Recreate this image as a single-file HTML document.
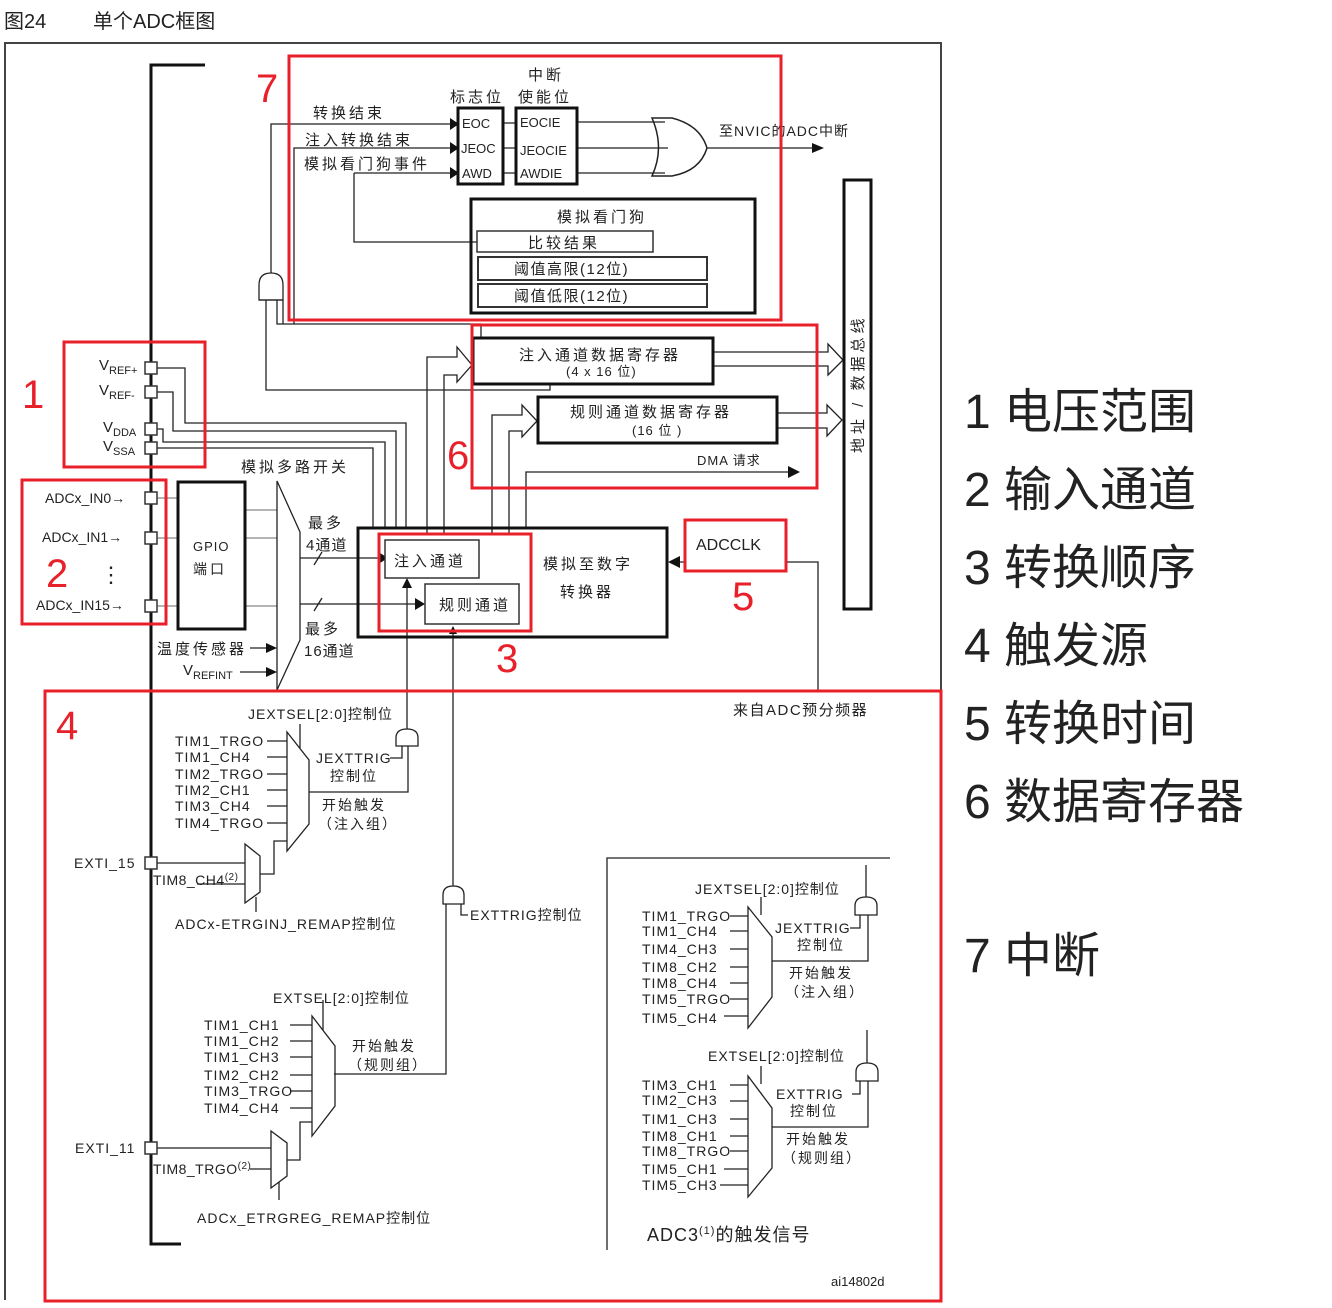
<!DOCTYPE html>
<html><head><meta charset="utf-8"><style>
body{margin:0;background:#fff;width:1332px;height:1308px;overflow:hidden}
svg{display:block}
text{font-family:"Liberation Sans","Noto Sans CJK SC",sans-serif;fill:#222}
.t{font-size:14px;letter-spacing:1px}
.c{font-size:15px;letter-spacing:3px}
.r{fill:#e8202a;font-size:40px}
.o{fill:#f5822a;font-size:48px}
</style></head><body>
<svg width="1332" height="1308" viewBox="0 0 1332 1308" xmlns="http://www.w3.org/2000/svg">
<text x="4" y="28" style="font-size:20px">图24</text>
<text x="93" y="28" style="font-size:20px">单个ADC框图</text>
<path d="M5,1300 V43 H941 V1300" fill="none" stroke="#444" stroke-width="2"/>
<path d="M205,65 H151 V1244 H181" fill="none" stroke="#111" stroke-width="3"/>
<g fill="none" stroke="#222" stroke-width="1.3">
<path d="M271,273 V124 H450"/>
<path d="M294,324 V148 H450"/>
<path d="M354,173 H450 M354,173 V242 H477"/>
<path d="M266,300 V390 H550 V385"/>
<path d="M277,300 V324 H481 V338"/>
<path d="M283,300 V324"/>
<path d="M503,123 H516 M503,148 H516 M503,173 H516"/>
<path d="M577,122 H665 M577,148 H668 M577,173 H665"/>
<path d="M707,148 H815"/>
<path d="M652,118 H672 Q700,125 707,148 Q700,171 672,176 H652 Q665,148 652,118 Z" stroke-width="1.5"/>
<path d="M259,300 V285 Q259,273 271,273 Q283,273 283,285 V300 Z"/>
<path d="M259,300 H283"/>
<path d="M157,368 H185 V423 H406 V528"/>
<path d="M157,392 H173 V431 H396 V528"/>
<path d="M157,429 H163 V442 H385 V528"/>
<path d="M157,448 H373 V528"/>
<path d="M157,498 H178 M157,538 H178 M157,606 H178" stroke="#888"/>
<path d="M245,510 H277 M245,538 H277 M245,606 H277" stroke="#888"/>
<path d="M277,481 L300,532 V640 L277,690 Z"/>
<path d="M300,558 H380 M300,604 H420"/>
<path d="M314,565 L322,552 M314,611 L322,598"/>
<path d="M250,648 H270 M240,672 H270"/>
<path d="M427,533 V357 H457 V347 L472,365 L457,382 V375 H444 V533"/>
<path d="M492,533 V415 H522 V405 L537,421 L522,437 V431 H509 V533"/>
<path d="M713,352 H828 V344 L843,360 L828,375 V366 H713"/>
<path d="M777,413 H827 V405 L842,420 L827,436 V428 H777"/>
<path d="M526,528 V472 H790"/>
<path d="M786,562 H818 V690 M684,562 H676"/>
<path d="M407,585 V729 M453,630 V886"/>
<path d="M287,732 L309,760 V824 L287,851 Z"/>
<path d="M267,741 H287 M267,757 H287 M267,774 H287 M267,790 H287 M267,806 H287 M267,823 H287"/>
<path d="M300,724 V748"/>
<path d="M309,792 H408 V746"/>
<path d="M396,746 V738 Q396,729 407,729 Q418,729 418,738 V746 Z"/>
<path d="M390,758 H402 V746"/>
<path d="M157,863 H245 M197,884 H245"/>
<path d="M245,844 L260,856 V892 L245,903 Z"/>
<path d="M260,874 H274 V841 H287"/>
<path d="M256,897 V912"/>
<path d="M443,904 V895 Q443,886 453,886 Q464,886 464,895 V904 Z"/>
<path d="M446,904 V1074 H334"/>
<path d="M461,904 V915 H468"/>
<path d="M312,1016 L335,1046 V1106 L312,1136 Z"/>
<path d="M290,1025 H312 M290,1041 H312 M290,1057 H312 M290,1075 H312 M290,1091 H312 M290,1108 H312"/>
<path d="M323,1000 V1030"/>
<path d="M157,1148 H271 M250,1169 H271"/>
<path d="M271,1131 L287,1143 V1176 L271,1188 Z"/>
<path d="M287,1160 H300 V1122 H312"/>
<path d="M279,1182 V1200"/>
<path d="M607,1250 V858 H890"/>
<path d="M748,907 L772,937 V997 L748,1028 Z"/>
<path d="M730,916 H748 M730,931 H748 M730,949 H748 M730,967 H748 M730,983 H748 M730,999 H748 M724,1016 H748"/>
<path d="M761,897 V915"/>
<path d="M772,961 H868 V915"/>
<path d="M855,915 V906 Q855,897 866,897 Q877,897 877,906 V915 Z"/>
<path d="M866,897 V865 M850,928 H860 V915"/>
<path d="M748,1076 L772,1108 V1168 L748,1197 Z"/>
<path d="M730,1085 H748 M730,1101 H748 M730,1119 H748 M730,1136 H748 M730,1151 H748 M724,1169 H748 M720,1185 H748"/>
<path d="M761,1066 V1084"/>
<path d="M772,1127 H868 V1081"/>
<path d="M856,1081 V1072 Q856,1063 867,1063 Q878,1063 878,1072 V1081 Z"/>
<path d="M867,1063 V1030 M852,1094 H860 V1081"/>
</g>
<g fill="#111">
<path d="M450,118 L459,124 L450,130Z M450,142 L459,148 L450,154Z M450,167 L459,173 L450,179Z"/>
<path d="M812,143 L824,148 L812,153Z"/>
<path d="M788,466 L800,472 L788,478Z"/>
<path d="M668,562 L680,556 L680,568Z"/>
<path d="M380,553 L388,558 L380,563Z M415,598 L425,604 L415,610Z"/>
<path d="M266,643 L277,648 L266,653Z M266,667 L277,672 L266,677Z"/>
<path d="M402,588 L407,578 L412,588Z M449,634 L453,626 L457,634Z"/>
</g>
<g fill="none" stroke="#111" stroke-width="3">
<rect x="458" y="108" width="45" height="76"/>
<rect x="516" y="108" width="61" height="76"/>
<rect x="471" y="199" width="284" height="114"/>
<rect x="473" y="338" width="240" height="46"/>
<rect x="538" y="397" width="239" height="46"/>
<rect x="844" y="180" width="27" height="429"/>
<rect x="178" y="482" width="67" height="147"/>
<rect x="358" y="528" width="309" height="109"/>
</g>
<g fill="#fff" stroke="#333" stroke-width="1.5">
<rect x="477" y="231" width="176" height="21"/>
<rect x="478" y="257" width="229" height="23" stroke-width="2"/>
<rect x="478" y="284" width="229" height="23" stroke-width="2"/>
<rect x="385" y="540" width="94" height="38"/>
<rect x="425" y="584" width="94" height="40"/>
<rect x="145" y="362" width="12" height="12"/>
<rect x="145" y="386" width="12" height="12"/>
<rect x="145" y="423" width="12" height="12"/>
<rect x="145" y="442" width="12" height="12"/>
<rect x="145" y="492" width="12" height="12"/>
<rect x="145" y="532" width="12" height="12"/>
<rect x="145" y="600" width="12" height="12"/>
<rect x="145" y="857" width="12" height="12"/>
<rect x="145" y="1142" width="12" height="12"/>
</g>
<g class="c">
<text x="528" y="80">中断</text>
<text x="450" y="102">标志位</text><text x="518" y="102">使能位</text>
<text x="313" y="118">转换结束</text>
<text x="305" y="145">注入转换结束</text>
<text x="304" y="169">模拟看门狗事件</text>
<text x="557" y="222">模拟看门狗</text>
<text x="528" y="248">比较结果</text>
<text x="514" y="274" style="letter-spacing:1.5px">阈值高限(12位)</text>
<text x="514" y="301" style="letter-spacing:1.5px">阈值低限(12位)</text>
<text x="519" y="360">注入通道数据寄存器</text>
<text x="570" y="417">规则通道数据寄存器</text>
<text x="241" y="472">模拟多路开关</text>
<text x="308" y="528">最多</text><text x="306" y="550" style="letter-spacing:1px">4通道</text>
<text x="394" y="566">注入通道</text>
<text x="439" y="610">规则通道</text>
<text x="543" y="569">模拟至数字</text>
<text x="560" y="597">转换器</text>
<text x="305" y="634">最多</text><text x="304" y="656" style="letter-spacing:1px">16通道</text>
<text x="157" y="654">温度传感器</text>
<text x="733" y="715" style="letter-spacing:1.5px">来自ADC预分频器</text>
</g>
<g class="t">
<text x="719" y="136">至NVIC的ADC中断</text>
<text x="462" y="128" style="font-size:13px;letter-spacing:0">EOC</text>
<text x="461" y="153" style="font-size:13px;letter-spacing:0">JEOC</text>
<text x="462" y="178" style="font-size:13px;letter-spacing:0">AWD</text>
<text x="520" y="127" style="font-size:13px;letter-spacing:0">EOCIE</text>
<text x="520" y="155" style="font-size:13px;letter-spacing:0">JEOCIE</text>
<text x="520" y="178" style="font-size:13px;letter-spacing:0">AWDIE</text>
<text x="566" y="376" style="font-size:13px">(4 x 16 位)</text>
<text x="632" y="435" style="font-size:13px">(16 位 )</text>
<text x="697" y="465" style="font-size:13px">DMA 请求</text>
<text x="696" y="550" style="font-size:16px;letter-spacing:0">ADCCLK</text>
<text x="193" y="551" style="font-size:13px">GPIO</text>
<text x="193" y="574" style="letter-spacing:3px">端口</text>
<text x="99" y="370" style="font-size:15px;letter-spacing:0">V<tspan font-size="11" dy="4">REF+</tspan></text>
<text x="99" y="395" style="font-size:15px;letter-spacing:0">V<tspan font-size="11" dy="4">REF-</tspan></text>
<text x="103" y="432" style="font-size:15px;letter-spacing:0">V<tspan font-size="11" dy="4">DDA</tspan></text>
<text x="103" y="451" style="font-size:15px;letter-spacing:0">V<tspan font-size="11" dy="4">SSA</tspan></text>
<text x="45" y="503" style="letter-spacing:0">ADCx_IN0<tspan font-weight="bold">→</tspan></text>
<text x="42" y="542" style="letter-spacing:0">ADCx_IN1<tspan font-weight="bold">→</tspan></text>
<text x="36" y="610" style="letter-spacing:0">ADCx_IN15<tspan font-weight="bold">→</tspan></text>
<text x="100" y="582" style="font-size:22px">⋮</text>
<text x="183" y="675" style="font-size:15px;letter-spacing:0">V<tspan font-size="11" dy="4">REFINT</tspan></text>
<text x="248" y="719">JEXTSEL[2:0]控制位</text>
<text x="175" y="746">TIM1_TRGO</text>
<text x="175" y="762">TIM1_CH4</text>
<text x="175" y="779">TIM2_TRGO</text>
<text x="175" y="795">TIM2_CH1</text>
<text x="175" y="811">TIM3_CH4</text>
<text x="175" y="828">TIM4_TRGO</text>
<text x="316" y="763">JEXTTRIG</text><text x="330" y="781" style="letter-spacing:2px">控制位</text>
<text x="322" y="810" style="letter-spacing:2px">开始触发</text><text x="318" y="829" style="letter-spacing:2px">（注入组）</text>
<text x="74" y="868">EXTI_15</text>
<text x="153" y="885" style="letter-spacing:0.5px">TIM8_CH4<tspan font-size="10" dy="-5">(2)</tspan></text>
<text x="175" y="929">ADCx-ETRGINJ_REMAP控制位</text>
<text x="470" y="920">EXTTRIG控制位</text>
<text x="273" y="1003">EXTSEL[2:0]控制位</text>
<text x="204" y="1030">TIM1_CH1</text>
<text x="204" y="1046">TIM1_CH2</text>
<text x="204" y="1062">TIM1_CH3</text>
<text x="204" y="1080">TIM2_CH2</text>
<text x="204" y="1096">TIM3_TRGO</text>
<text x="204" y="1113">TIM4_CH4</text>
<text x="352" y="1051" style="letter-spacing:2px">开始触发</text><text x="348" y="1070" style="letter-spacing:2px">（规则组）</text>
<text x="75" y="1153">EXTI_11</text>
<text x="153" y="1174" style="letter-spacing:0.5px">TIM8_TRGO<tspan font-size="10" dy="-5">(2)</tspan></text>
<text x="197" y="1223">ADCx_ETRGREG_REMAP控制位</text>
<text x="695" y="894">JEXTSEL[2:0]控制位</text>
<text x="642" y="921">TIM1_TRGO</text>
<text x="642" y="936">TIM1_CH4</text>
<text x="642" y="954">TIM4_CH3</text>
<text x="642" y="972">TIM8_CH2</text>
<text x="642" y="988">TIM8_CH4</text>
<text x="642" y="1004">TIM5_TRGO</text>
<text x="642" y="1023">TIM5_CH4</text>
<text x="775" y="933">JEXTTRIG</text><text x="797" y="950" style="letter-spacing:2px">控制位</text>
<text x="789" y="978" style="letter-spacing:2px">开始触发</text><text x="785" y="997" style="letter-spacing:2px">（注入组）</text>
<text x="708" y="1061">EXTSEL[2:0]控制位</text>
<text x="642" y="1090">TIM3_CH1</text>
<text x="642" y="1105">TIM2_CH3</text>
<text x="642" y="1124">TIM1_CH3</text>
<text x="642" y="1141">TIM8_CH1</text>
<text x="642" y="1156">TIM8_TRGO</text>
<text x="642" y="1174">TIM5_CH1</text>
<text x="642" y="1190">TIM5_CH3</text>
<text x="776" y="1099">EXTTRIG</text><text x="790" y="1116" style="letter-spacing:2px">控制位</text>
<text x="786" y="1144" style="letter-spacing:2px">开始触发</text><text x="782" y="1163" style="letter-spacing:2px">（规则组）</text>
<text x="647" y="1241" style="font-size:18px;letter-spacing:1px">ADC3<tspan font-size="11" dy="-7">(1)</tspan><tspan dy="7">的触发信号</tspan></text>
<text x="831" y="1286" style="font-size:13px;letter-spacing:0">ai14802d</text>
<text transform="translate(863,453) rotate(-90)" style="font-size:15px;letter-spacing:4px">地址 / 数据总线</text>
</g>
<g fill="none" stroke="#e8202a" stroke-width="3">
<rect x="289" y="56" width="492" height="264"/>
<rect x="64" y="342" width="141" height="125"/>
<rect x="22" y="480" width="144" height="144"/>
<rect x="472" y="325" width="345" height="163"/>
<rect x="379" y="534" width="152" height="97"/>
<rect x="685" y="520" width="101" height="51"/>
<rect x="45" y="691" width="896" height="610"/>
</g>
<text class="r" x="256" y="102">7</text>
<text class="r" x="22" y="408">1</text>
<text class="r" x="46" y="587">2</text>
<text class="r" x="447" y="469">6</text>
<text class="r" x="496" y="672">3</text>
<text class="r" x="732" y="610">5</text>
<text class="r" x="56" y="739">4</text>
<g class="o">
<text x="964" y="428">1 电压范围</text>
<text x="964" y="506">2 输入通道</text>
<text x="964" y="584">3 转换顺序</text>
<text x="964" y="662">4 触发源</text>
<text x="964" y="740">5 转换时间</text>
<text x="964" y="818">6 数据寄存器</text>
<text x="964" y="972">7 中断</text>
</g>
</svg>
</body></html>
